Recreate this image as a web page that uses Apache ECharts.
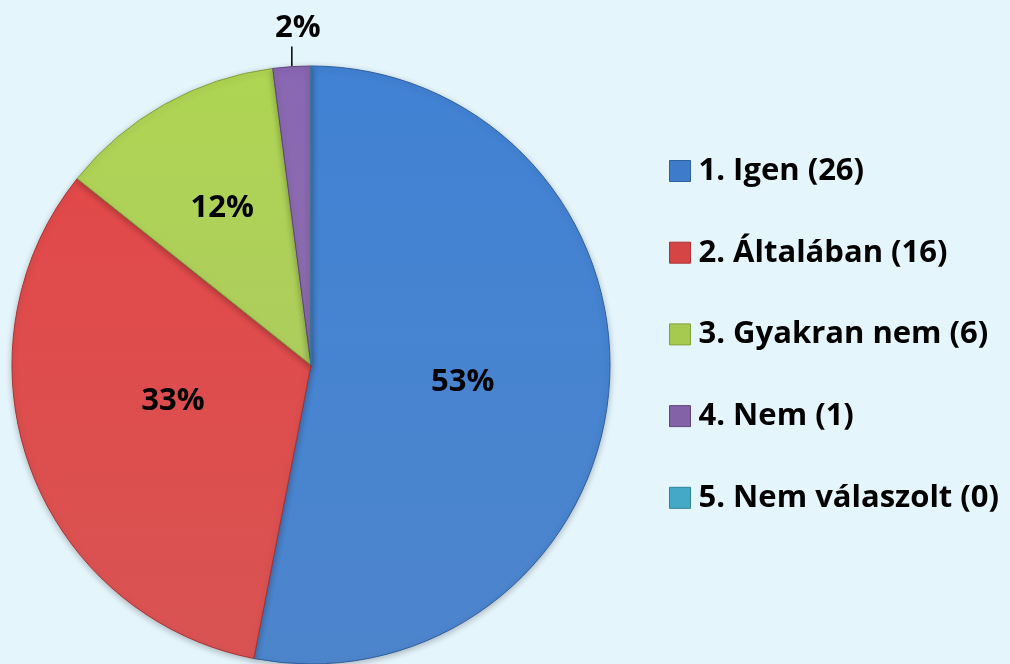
<!DOCTYPE html>
<html>
<head>
<meta charset="utf-8">
<script src="https://cdn.jsdelivr.net/npm/echarts@6/dist/echarts.min.js"></script>
<style>
html,body{margin:0;padding:0;background:#E5F5FC;}
#c{width:1010px;height:664px;}
</style>
</head>
<body>
<div id="c"></div>
<script>
const categories = ['1. Igen', '2. Általában', '3. Gyakran nem', '4. Nem', '5. Nem válaszolt'];
const counts = [26, 16, 6, 1, 0];
const colors = ['#3E7BC8', '#D64545', '#A6C94F', '#8362A8', '#43A9C6'];
const borders = ['#2E5F9E', '#A83434', '#82A03A', '#5F4581', '#2F8199'];
const labelOffsets = [[0, 3], [5, -16], [-14, -24], [0, 0], [0, 0]];

const FONT = '"Open Sans", sans-serif';
const chart = echarts.init(document.getElementById('c'));
const data = categories.map((c, i) => ({
  name: c + ' (' + counts[i] + ')',
  value: counts[i],
  itemStyle: {
    color: new echarts.graphic.LinearGradient(0, 0, 0, 1, [
      {offset: 0, color: echarts.color.lift(colors[i], -0.06)},
      {offset: 1, color: echarts.color.lift(colors[i], 0.08)}
    ]),
    borderColor: borders[i],
    borderWidth: 1
  },
  label: i === 3 ? {position: 'outside'} : (counts[i] === 0 ? {show: false} : {position: 'inside', offset: labelOffsets[i]}),
  labelLine: i === 3 ? {show: true, length: 20, length2: 0, lineStyle: {color: '#000', width: 1.5}} : {show: false}
}));

chart.setOption({
  backgroundColor: '#E5F5FC',
  animation: false,
  color: colors,
  legend: {
    orient: 'vertical',
    left: 664,
    top: 150,
    itemWidth: 21,
    itemHeight: 21,
    itemGap: 49.7,
    icon: 'rect',
    data: data.map((d, i) => ({name: d.name, itemStyle: {color: colors[i], borderColor: borders[i], borderWidth: 1}})),
    textStyle: {fontFamily: FONT, fontWeight: 'bold', fontSize: 31, lineHeight: 32, color: '#000', padding: [0, 0, 0, 3]}
  },
  series: [{
    type: 'pie',
    center: [311, 365],
    radius: 299,
    startAngle: 90,
    clockwise: true,
    percentPrecision: 0,
    avoidLabelOverlap: false,
    label: {
      show: true,
      formatter: '{d}%',
      fontFamily: FONT,
      fontWeight: 'bold',
      fontSize: 31,
      color: '#000'
    },
    labelLayout: function (p) {
      if (p.dataIndex === 3 && p.labelLinePoints) {
        const s = p.labelLinePoints[0];
        const top = s[1] - 20;
        return {
          x: s[0] + 6, y: top - 3, align: 'center', verticalAlign: 'bottom',
          labelLinePoints: [[s[0], s[1]], [s[0], top], [s[0], top]]
        };
      }
    },
    itemStyle: {shadowBlur: 6, shadowColor: 'rgba(0,0,0,0.25)', shadowOffsetY: 2},
    data: data
  }]
});
</script>
</body>
</html>
